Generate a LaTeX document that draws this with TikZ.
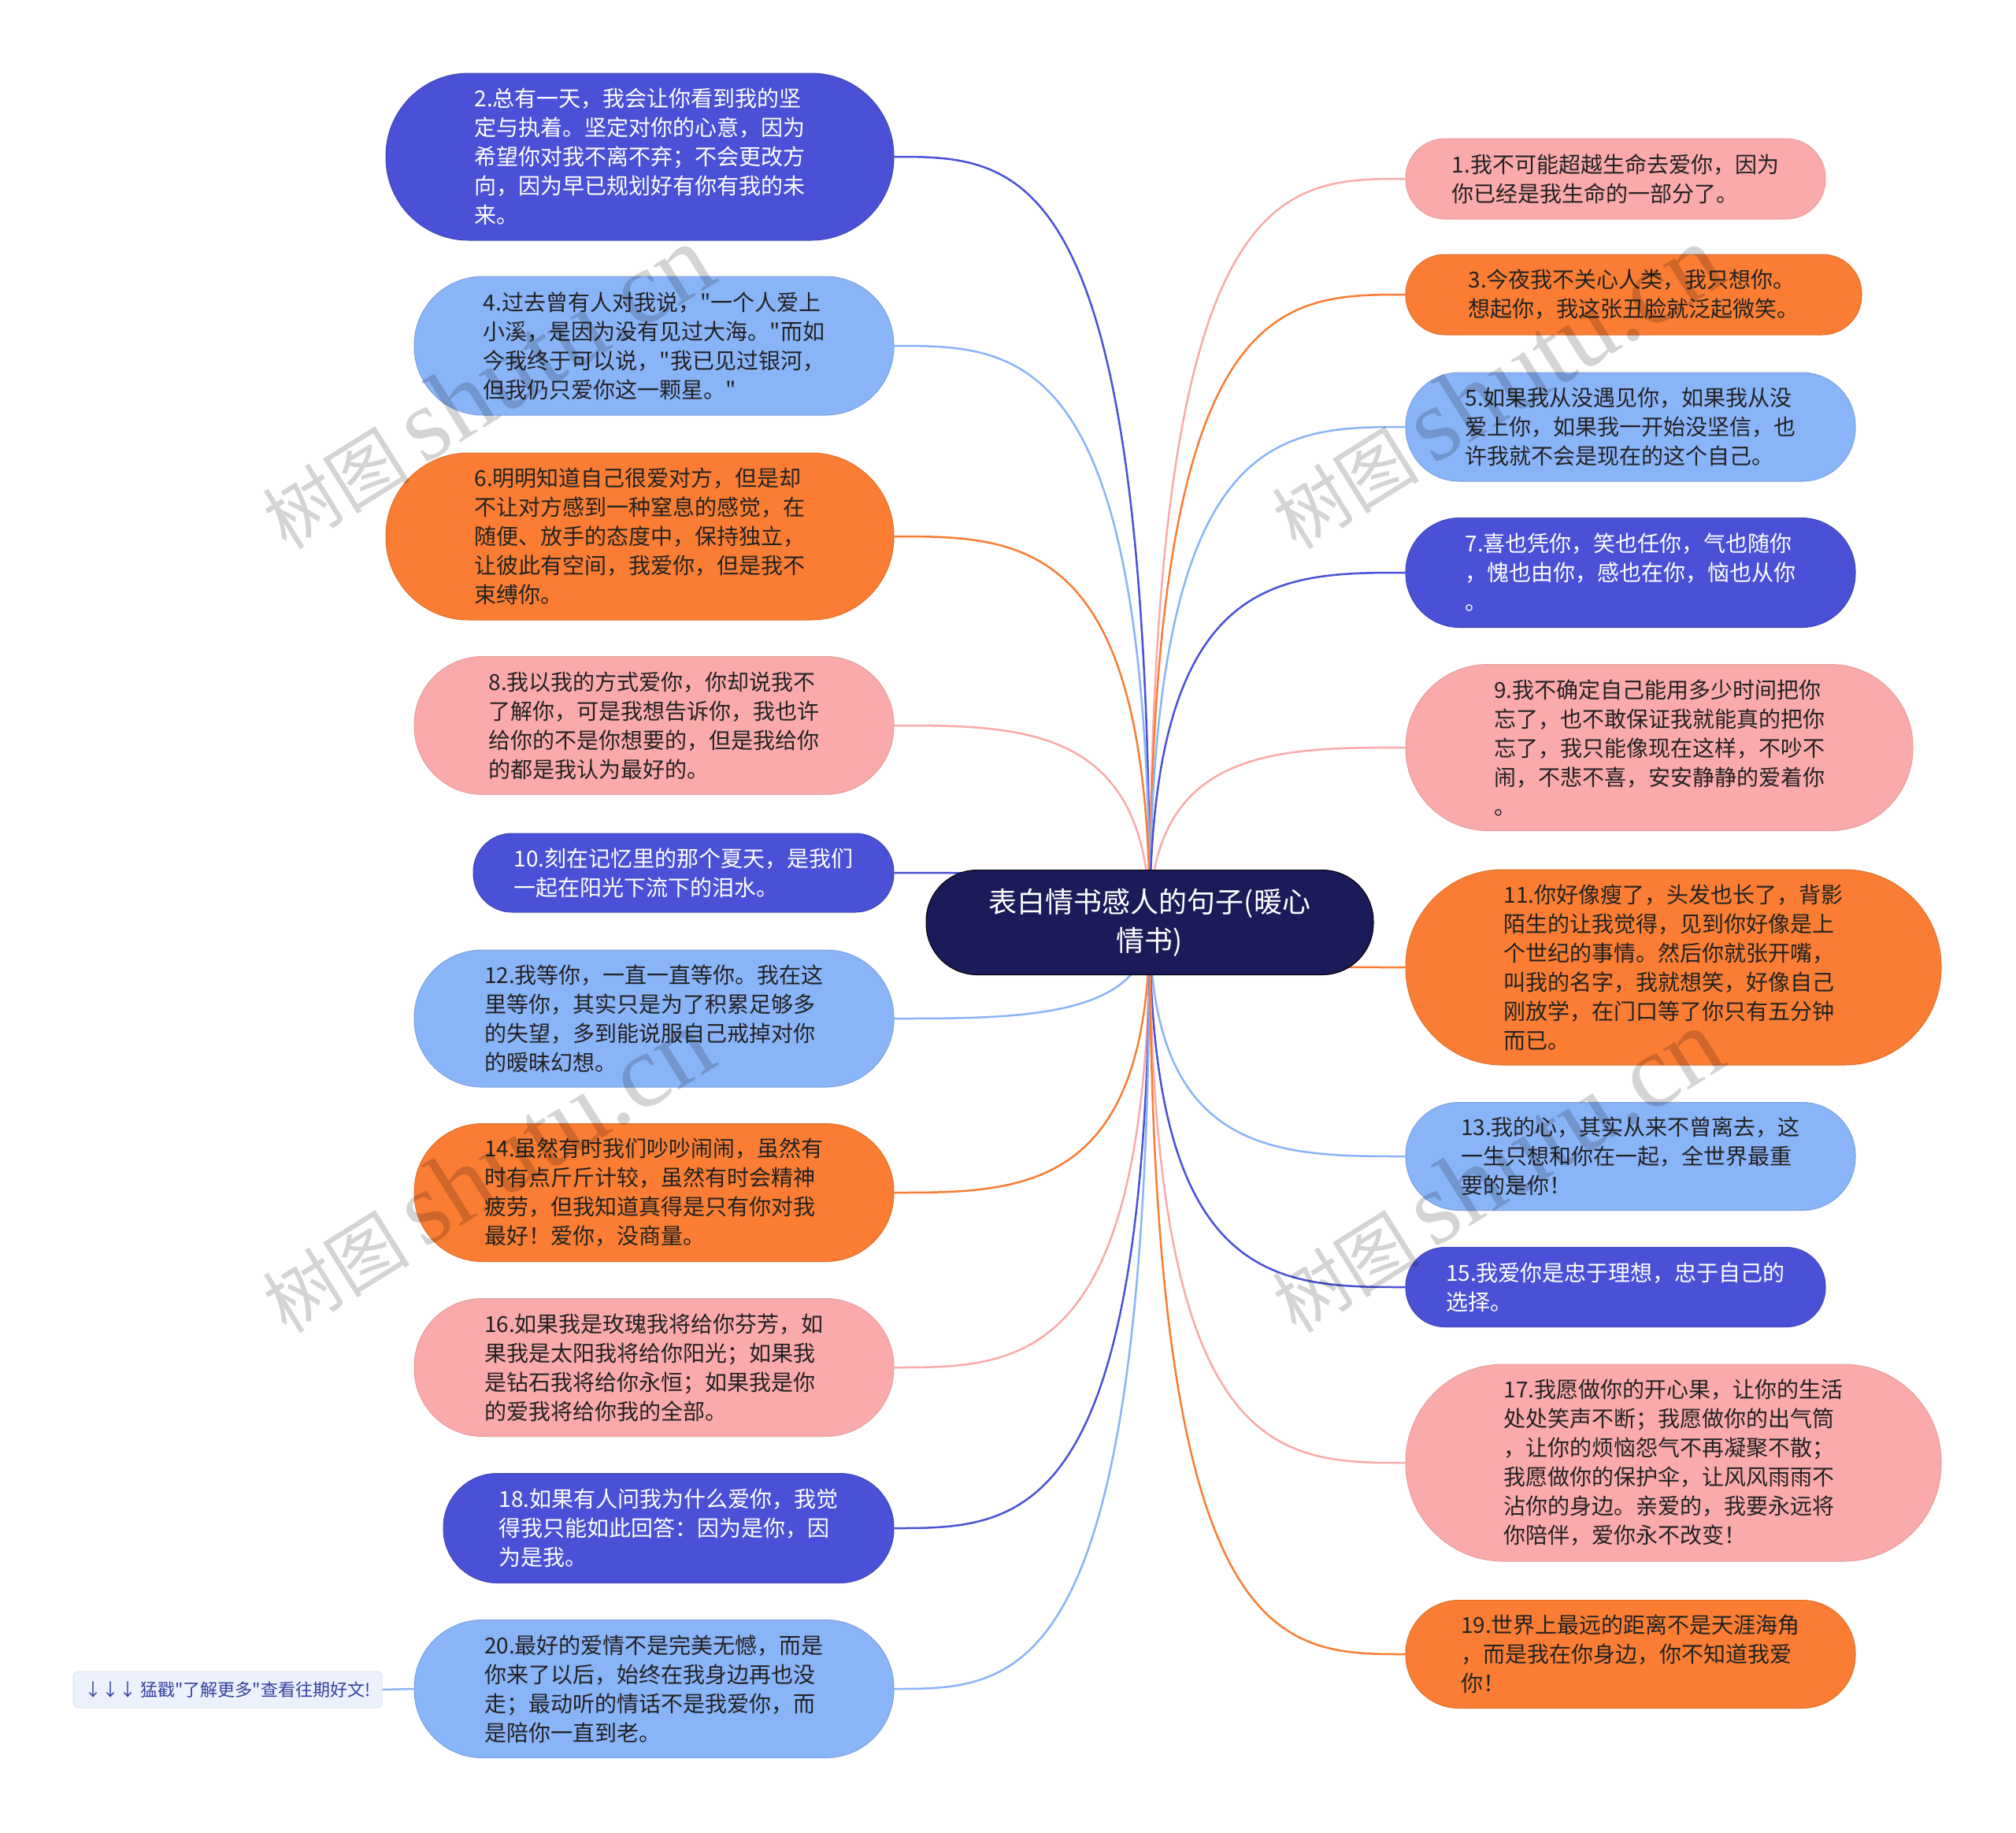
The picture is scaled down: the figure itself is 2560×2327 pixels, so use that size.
\documentclass[tikz,border=0pt]{standalone}
\usepackage{fontspec}
\setmainfont{Noto Sans CJK SC}[Ligatures=TeXOff]
\newfontfamily\wmlatin{Liberation Serif}[Ligatures=TeXOff]
\usetikzlibrary{calc}
\pgfdeclarelayer{bg}
\pgfdeclarelayer{edges}
\pgfsetlayers{bg,edges,main}
\definecolor{cdb}{RGB}{74,81,214}
\definecolor{clb}{RGB}{138,180,248}
\definecolor{cor}{RGB}{250,125,51}
\definecolor{cpk}{RGB}{250,170,170}
\definecolor{cct}{RGB}{27,27,90}
\definecolor{ctxt}{RGB}{34,34,34}
\definecolor{ctipf}{RGB}{236,241,252}
\definecolor{ctipt}{RGB}{52,64,160}
\tikzset{
  pill/.style={rectangle, inner sep=0pt, align=left, font=\fontsize{28}{37}\selectfont, line width=1pt},
  sz/.style 2 args={minimum width=#1, minimum height=#2, rounded corners=#2/2-1pt},
  dbnode/.style={pill, fill=cdb, draw=cdb!85!black, text=white},
  lbnode/.style={pill, fill=clb, draw=clb!90!black, text=ctxt},
  ornode/.style={pill, fill=cor, draw=cor!90!black, text=ctxt},
  pknode/.style={pill, fill=cpk, draw=cpk!93!black, text=ctxt},
  rootnode/.style={rectangle, inner sep=0pt, align=center, fill=cct, draw=black, line width=1pt, text=white,
    font=\fontsize{36}{49}\selectfont, minimum width=568pt, minimum height=133pt, rounded corners=65pt},
  tipbox/.style={rectangle, inner sep=0pt, fill=ctipf, draw=ctipf!90!black, line width=0.6pt, text=ctipt,
    font=\fontsize{22}{26}\selectfont, minimum width=392pt, minimum height=46pt, rounded corners=6pt},
  edge/.style={line width=2.5pt},
  wm/.style={text=black, opacity=0.17, font=\fontsize{94}{100}\selectfont, rotate=32, inner sep=0pt, anchor=base west},
}
\newcommand\wmtext{树图\hspace{18pt}{\wmlatin\fontsize{132}{140}\selectfont shutu.cn}}
\begin{document}
\begin{tikzpicture}[x=1pt,y=-1pt]
\begin{pgfonlayer}{bg}
\fill[white] (0,0) rectangle (2560,2327);
\end{pgfonlayer}
\useasboundingbox (0,0) rectangle (2560,2327);

\node[rootnode] (c) at (1460,1171) {表白情书感人的句子(暖心\\情书)};

% left column
\node[dbnode, sz={645pt}{212pt}] (n2) at (812.5,199) {2.总有一天，我会让你看到我的坚\\定与执着。坚定对你的心意，因为\\希望你对我不离不弃；不会更改方\\向，因为早已规划好有你有我的未\\来。};
\node[lbnode, sz={609pt}{176pt}] (n4) at (830.5,439) {4.过去曾有人对我说，"一个人爱上\\小溪，是因为没有见过大海。"而如\\今我终于可以说，"我已见过银河，\\但我仍只爱你这一颗星。"};
\node[ornode, sz={645pt}{212pt}] (n6) at (812.5,681) {6.明明知道自己很爱对方，但是却\\不让对方感到一种窒息的感觉，在\\随便、放手的态度中，保持独立，\\让彼此有空间，我爱你，但是我不\\束缚你。};
\node[pknode, sz={609pt}{175pt}] (n8) at (830.5,921) {8.我以我的方式爱你，你却说我不\\了解你，可是我想告诉你，我也许\\给你的不是你想要的，但是我给你\\的都是我认为最好的。};
\node[dbnode, sz={534pt}{100pt}] (n10) at (868,1108) {10.刻在记忆里的那个夏天，是我们\\一起在阳光下流下的泪水。};
\node[lbnode, sz={609pt}{174pt}] (n12) at (830.5,1293) {12.我等你，一直一直等你。我在这\\里等你，其实只是为了积累足够多\\的失望，多到能说服自己戒掉对你\\的暧昧幻想。};
\node[ornode, sz={609pt}{175pt}] (n14) at (830.5,1514) {14.虽然有时我们吵吵闹闹，虽然有\\时有点斤斤计较，虽然有时会精神\\疲劳，但我知道真得是只有你对我\\最好！爱你，没商量。};
\node[pknode, sz={609pt}{175pt}] (n16) at (830.5,1736) {16.如果我是玫瑰我将给你芬芳，如\\果我是太阳我将给你阳光；如果我\\是钻石我将给你永恒；如果我是你\\的爱我将给你我的全部。};
\node[dbnode, sz={572pt}{139pt}] (n18) at (849,1940) {18.如果有人问我为什么爱你，我觉\\得我只能如此回答：因为是你，因\\为是我。};
\node[lbnode, sz={609pt}{175pt}] (n20) at (830.5,2144) {20.最好的爱情不是完美无憾，而是\\你来了以后，始终在我身边再也没\\走；最动听的情话不是我爱你，而\\是陪你一直到老。};
\node[tipbox] (tip) at (289,2145) {↓↓↓ 猛戳"了解更多"查看往期好文!};

% right column
\node[pknode, sz={533pt}{102pt}] (n1) at (2051.5,227) {1.我不可能超越生命去爱你，因为\\你已经是我生命的一部分了。};
\node[ornode, sz={579pt}{102pt}] (n3) at (2074.5,374) {3.今夜我不关心人类，我只想你。\\想起你，我这张丑脸就泛起微笑。};
\node[lbnode, sz={571pt}{138pt}] (n5) at (2070.5,542) {5.如果我从没遇见你，如果我从没\\爱上你，如果我一开始没坚信，也\\许我就不会是现在的这个自己。};
\node[dbnode, sz={571pt}{139pt}] (n7) at (2070.5,727) {7.喜也凭你，笑也任你，气也随你\\，愧也由你，感也在你，恼也从你\\。};
\node[pknode, sz={644pt}{211pt}] (n9) at (2107,949) {9.我不确定自己能用多少时间把你\\忘了，也不敢保证我就能真的把你\\忘了，我只能像现在这样，不吵不\\闹，不悲不喜，安安静静的爱着你\\。};
\node[ornode, sz={680pt}{248pt}] (n11) at (2125,1228) {11.你好像瘦了，头发也长了，背影\\陌生的让我觉得，见到你好像是上\\个世纪的事情。然后你就张开嘴，\\叫我的名字，我就想笑，好像自己\\刚放学，在门口等了你只有五分钟\\而已。};
\node[lbnode, sz={571pt}{137pt}] (n13) at (2070.5,1468) {13.我的心，其实从来不曾离去，这\\一生只想和你在一起，全世界最重\\要的是你！};
\node[dbnode, sz={533pt}{101pt}] (n15) at (2051.5,1634) {15.我爱你是忠于理想，忠于自己的\\选择。};
\node[pknode, sz={680pt}{250pt}] (n17) at (2125,1857) {17.我愿做你的开心果，让你的生活\\处处笑声不断；我愿做你的出气筒\\，让你的烦恼怨气不再凝聚不散；\\我愿做你的保护伞，让风风雨雨不\\沾你的身边。亲爱的，我要永远将\\你陪伴，爱你永不改变！};
\node[ornode, sz={571pt}{137pt}] (n19) at (2070.5,2100) {19.世界上最远的距离不是天涯海角\\，而是我在你身边，你不知道我爱\\你！};

\begin{pgfonlayer}{edges}
\foreach \n/\col in {n2/cdb,n4/clb,n6/cor,n8/cpk,n10/cdb,n12/clb,n14/cor,n16/cpk,n18/cdb,n20/clb}
  \draw[edge,\col] (c.center) .. controls (c.center |- \n.east) and ($(c.center |- \n.east)!0.5!(\n.east)$) .. (\n.east);
\foreach \n/\col in {n1/cpk,n3/cor,n5/clb,n7/cdb,n9/cpk,n11/cor,n13/clb,n15/cdb,n17/cpk,n19/cor}
  \draw[edge,\col] (c.center) .. controls (c.center |- \n.west) and ($(c.center |- \n.west)!0.5!(\n.west)$) .. (\n.west);
\draw[edge,clb] (tip.east) -- (n20.west);
\end{pgfonlayer}

% watermarks
\node[wm] (w1) at (364,700) {\wmtext};
\node[wm] (w2) at (1646,700) {\wmtext};
\node[wm] (w3) at (364,1695) {\wmtext};
\node[wm] (w4) at (1646,1695) {\wmtext};
\end{tikzpicture}
\end{document}
